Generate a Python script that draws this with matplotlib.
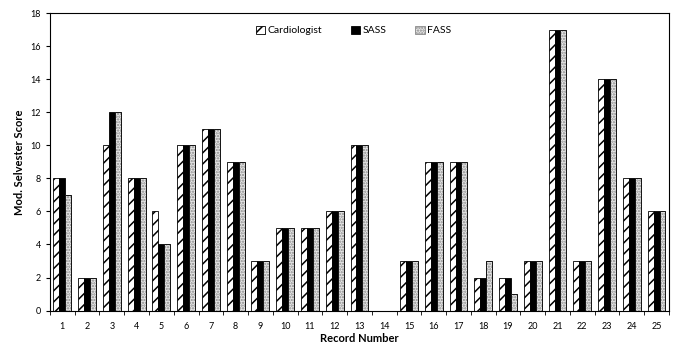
import matplotlib
matplotlib.use("Agg")
import matplotlib.pyplot as plt
import numpy as np

plt.rcParams["font.family"] = ["Lato", "DejaVu Sans"]
plt.rcParams["hatch.linewidth"] = 1.1

records = [str(i) for i in range(1, 26)]
cardiologist = [8, 2, 10, 8, 6, 10, 11, 9, 3, 5, 5, 6, 10, 0, 3, 9, 9, 2, 2, 3, 17, 3, 14, 8, 6]
sass = [8, 2, 12, 8, 4, 10, 11, 9, 3, 5, 5, 6, 10, 0, 3, 9, 9, 2, 2, 3, 17, 3, 14, 8, 6]
fass = [7, 2, 12, 8, 4, 10, 11, 9, 3, 5, 5, 6, 10, 0, 3, 9, 9, 3, 1, 3, 17, 3, 14, 8, 6]

fig = plt.figure(figsize=(6.75, 3.47), dpi=100)
ax = fig.add_axes([0.074, 0.105, 0.917, 0.857])

x = np.arange(len(records))
w = 0.24
ax.bar(x - w, cardiologist, w, color="white", edgecolor="black", hatch="///",
       linewidth=0.6, label="Cardiologist")
ax.bar(x, sass, w, color="black", edgecolor="black", linewidth=0.6, label="SASS")
ax.bar(x + w, fass, w, color="#e6e6e6", edgecolor="#888888", hatch="......",
       linewidth=0.6, label="FASS")
ax.bar(x + w, fass, w, color="none", edgecolor="black", linewidth=0.6)

ax.set_xlim(-0.5, len(records) - 0.5)
ax.set_ylim(0, 18)
ax.set_yticks(range(0, 19, 2))
ax.set_xticks(x, records)
ax.set_xticks(np.arange(-0.5, len(records), 1), minor=True)
ax.tick_params(axis="x", which="major", length=0, labelsize=6.5, pad=8)
ax.tick_params(axis="x", which="minor", length=3, direction="out")
ax.tick_params(axis="y", labelsize=6.5, length=3, direction="out")
for s in ax.spines.values():
    s.set_linewidth(0.8)

ax.set_xlabel("Record Number", fontsize=8, fontweight="bold", labelpad=2)
ax.set_ylabel("Mod. Selvester Score", fontsize=8, fontweight="bold", labelpad=4)
ax.legend(loc="upper center", bbox_to_anchor=(0.49, 0.99), ncol=3, frameon=False,
          fontsize=7.5, handlelength=0.9, handleheight=0.9, handletextpad=0.2,
          columnspacing=2.8)

fig.savefig("out.png", dpi=100)
